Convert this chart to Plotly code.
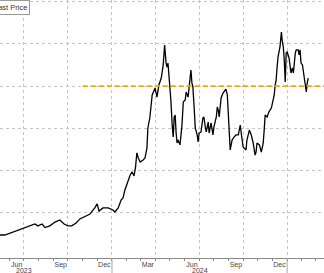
import plotly.graph_objects as go

dates = [
    "2023-05-08", "2023-05-12", "2023-05-22", "2023-06-02", "2023-06-12", "2023-06-23", "2023-07-03",
    "2023-07-13", "2023-07-24", "2023-07-30", "2023-08-08", "2023-08-14", "2023-08-24",
    "2023-09-04", "2023-09-14", "2023-09-23", "2023-10-01", "2023-10-09", "2023-10-18",
    "2023-10-26", "2023-11-06", "2023-11-16", "2023-11-26", "2023-12-01", "2023-12-05",
    "2023-12-13", "2023-12-24", "2024-01-03", "2024-01-07", "2024-01-14", "2024-01-20",
    "2024-01-24", "2024-01-28", "2024-02-03", "2024-02-08", "2024-02-12", "2024-02-16",
    "2024-02-19", "2024-02-22", "2024-02-25", "2024-02-29", "2024-03-06", "2024-03-10",
    "2024-03-14", "2024-03-16", "2024-03-20", "2024-03-25", "2024-03-31", "2024-04-04",
    "2024-04-08", "2024-04-13", "2024-04-17", "2024-04-20", "2024-04-23", "2024-04-25",
    "2024-04-27", "2024-05-01", "2024-05-03", "2024-05-06", "2024-05-08", "2024-05-10",
    "2024-05-12", "2024-05-14", "2024-05-16", "2024-05-18", "2024-05-22", "2024-05-26",
    "2024-05-29", "2024-06-02", "2024-06-04", "2024-06-08", "2024-06-10", "2024-06-14",
    "2024-06-16", "2024-06-18", "2024-06-21", "2024-06-23", "2024-06-27", "2024-06-29",
    "2024-07-01", "2024-07-05", "2024-07-09", "2024-07-11", "2024-07-14", "2024-07-16",
    "2024-07-20", "2024-07-22", "2024-07-26", "2024-07-28", "2024-07-30", "2024-08-01",
    "2024-08-06", "2024-08-08", "2024-08-10", "2024-08-12", "2024-08-16", "2024-08-20",
    "2024-08-24", "2024-08-26", "2024-08-29", "2024-08-31", "2024-09-02", "2024-09-04",
    "2024-09-06", "2024-09-08", "2024-09-12", "2024-09-16", "2024-09-21", "2024-09-25",
    "2024-09-27", "2024-10-01", "2024-10-03", "2024-10-07", "2024-10-09", "2024-10-14",
    "2024-10-18", "2024-10-22", "2024-10-26", "2024-10-28", "2024-10-30", "2024-11-04",
    "2024-11-08", "2024-11-12", "2024-11-14", "2024-11-16", "2024-11-20", "2024-11-24",
    "2024-11-29", "2024-12-03", "2024-12-05", "2024-12-07", "2024-12-09", "2024-12-11",
    "2024-12-13", "2024-12-17", "2024-12-20", "2024-12-22", "2024-12-24", "2024-12-26",
    "2024-12-28", "2024-12-30", "2025-01-01", "2025-01-05", "2025-01-07", "2025-01-09",
    "2025-01-12", "2025-01-14", "2025-01-18", "2025-01-20", "2025-01-24", "2025-01-26",
    "2025-01-28", "2025-01-30", "2025-02-02", "2025-02-06", "2025-02-08", "2025-02-10",
    "2025-02-12", "2025-02-14",
]
last_price = [
    9.4, 9.6, 9.6, 10.5, 11.5, 12.4, 13.4,
    13.9, 14.8, 13.9, 14.8, 13.1, 13.9,
    15.7, 16.7, 14.8, 13.9, 13.9, 15.3,
    17.2, 18.6, 19.5, 22.4, 24.3, 20.9,
    22.4, 22.4, 21.4, 20.5, 22.4, 26.1,
    27.1, 30.9, 34.7, 38.0, 39.4, 37.5,
    41.3, 48.4, 46.0, 44.1, 45.1, 46.0,
    50.7, 60.2, 64.9, 75.8, 79.1, 74.8,
    80.5, 83.8, 90.0, 99.4, 90.9, 89.0,
    90.9, 81.5, 73.4, 60.7, 55.9, 65.4,
    66.3, 57.8, 53.1, 54.5, 52.2, 60.7,
    72.5, 73.4, 77.2, 74.8, 79.6, 87.6,
    81.5, 79.6, 68.7, 60.2, 56.9, 53.6,
    57.8, 58.3, 64.9, 65.4, 60.7, 58.3,
    63.0, 57.8, 62.6, 58.3, 56.9, 60.7,
    65.4, 70.1, 68.7, 65.4, 74.4, 76.7,
    78.2, 78.6, 75.8, 68.7, 57.8, 49.8,
    52.2, 54.5, 55.9, 56.9, 56.9, 61.6,
    57.8, 51.2, 50.7, 49.8, 54.5, 59.2,
    56.9, 53.1, 47.4, 48.8, 53.1, 52.2,
    48.8, 53.1, 59.2, 66.3, 65.4, 67.8,
    69.6, 73.4, 75.8, 80.5, 82.9, 89.0,
    93.8, 98.5, 105.6, 100.9, 98.5, 92.3,
    81.9, 95.6, 96.1, 93.3, 89.0, 86.2,
    88.6, 86.2, 95.6, 97.1, 97.1, 94.7,
    97.1, 90.9, 90.0, 82.9, 79.6, 77.2,
    81.5, 83.8,
]

ref_level = 80.0
ref_start = "2023-11-01"
ref_end = "2025-03-25"

x_range = ["2023-05-12", "2025-03-19"]
y_range = [-1.28, 120.7]
y_grid = [20, 40, 60, 80, 100, 120]

quarter_starts = ["2023-04-01", "2023-07-01", "2023-10-01", "2024-01-01", "2024-04-01",
                  "2024-07-01", "2024-10-01", "2025-01-01", "2025-04-01"]
month_starts = ["2023-05-01", "2023-06-01", "2023-07-01", "2023-08-01", "2023-09-01",
                "2023-10-01", "2023-11-01", "2023-12-01", "2024-01-01", "2024-02-01",
                "2024-03-01", "2024-04-01", "2024-05-01", "2024-06-01", "2024-07-01",
                "2024-08-01", "2024-09-01", "2024-10-01", "2024-11-01", "2024-12-01",
                "2025-01-01", "2025-02-01", "2025-03-01"]
label_dates = ["2023-06-16", "2023-09-16", "2023-12-16", "2024-03-16", "2024-06-16",
               "2024-09-16", "2024-12-16", "2025-03-16"]
label_text = ["Jun", "Sep", "Dec", "Mar", "Jun", "Sep", "Dec", "Mar"]
year_dates = ["2023-07-02", "2024-07-02"]
year_text = ["2023", "2024"]
year_bounds = ["2024-01-01", "2025-01-01"]

FONT = "Liberation Sans, Arial, sans-serif"

fig = go.Figure()
fig.add_trace(go.Scatter(x=dates, y=last_price, mode="lines",
                         line=dict(color="#000000", width=1.3), showlegend=False,
                         hoverinfo="skip"))
fig.add_trace(go.Scatter(x=[ref_start, ref_end], y=[ref_level, ref_level], mode="lines",
                         line=dict(color="#F5A800", width=1.6, dash="5px,3px"),
                         showlegend=False, hoverinfo="skip"))
# invisible trace to activate grid axis
fig.add_trace(go.Scatter(x=[x_range[0]], y=[None], xaxis="x2", showlegend=False,
                         hoverinfo="skip"))

fig.update_layout(
    width=324, height=273,
    margin=dict(l=0, r=0, t=0, b=15),
    paper_bgcolor="white", plot_bgcolor="white",
    font=dict(family=FONT, size=7, color="#444444"),
    xaxis=dict(
        type="date", range=x_range, showgrid=False, zeroline=False,
        tickvals=label_dates, ticktext=label_text, ticks="", ticklen=0,
        tickfont=dict(size=7, color="#444444"),
        showline=True, linecolor="#888888", linewidth=1,
        minor=dict(tickvals=month_starts, ticks="outside", ticklen=2,
                   tickcolor="#888888", showgrid=False),
    ),
    xaxis2=dict(
        type="date", range=x_range, overlaying="x", side="bottom", anchor="y",
        tickvals=quarter_starts, showticklabels=False, ticks="",
        showgrid=True, gridcolor="#c4c4c4", griddash="dot", gridwidth=1,
        zeroline=False, showline=False,
    ),
    yaxis=dict(
        range=y_range, tickvals=y_grid, showticklabels=False, ticks="",
        showgrid=True, gridcolor="#c4c4c4", griddash="dot", gridwidth=1,
        zeroline=False, showline=False,
    ),
)

for d, t in zip(year_dates, year_text):
    fig.add_annotation(x=d, y=0, xref="x", yref="paper", yshift=-12, text=t,
                       showarrow=False, font=dict(size=7, color="#444444"),
                       yanchor="middle")
for d in year_bounds:
    fig.add_shape(type="line", x0=d, x1=d, xref="x", yref="paper", y0=0, y1=-0.06,
                  line=dict(color="#aaaaaa", width=1))

fig.add_annotation(x=30 / 324, y=1, xref="paper", yref="paper", xanchor="right",
                   yanchor="top", text="Last Price", showarrow=False,
                   font=dict(size=7.5, color="#333333"), bgcolor="white",
                   bordercolor="#999999", borderwidth=1, borderpad=2)

fig.write_html("out.html")
